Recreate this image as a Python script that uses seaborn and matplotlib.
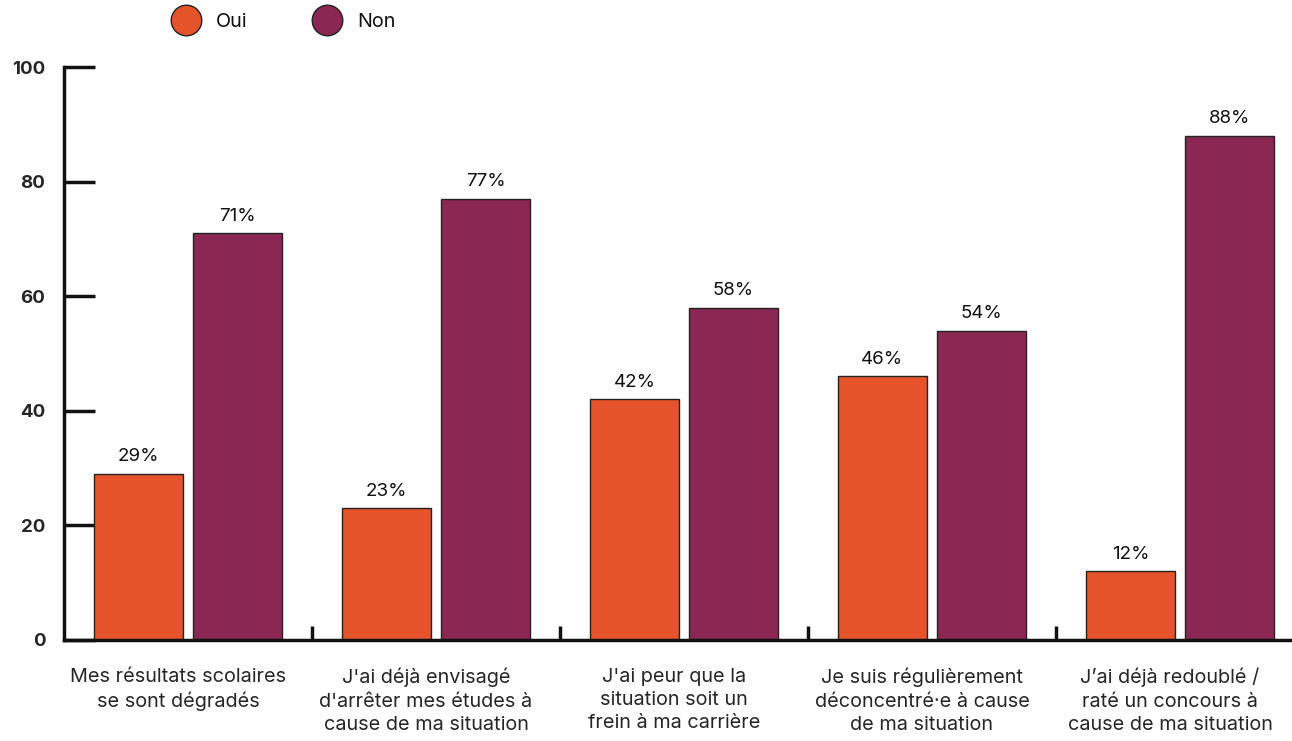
import matplotlib
matplotlib.use("Agg")
import matplotlib.pyplot as plt
import matplotlib.transforms as mtransforms
from matplotlib.lines import Line2D
import seaborn as sns
import pandas as pd

# Survey statements and answer shares (%)
questions = [
    "Mes résultats scolaires\nse sont dégradés",
    "J'ai déjà envisagé\nd'arrêter mes études à\ncause de ma situation",
    "J'ai peur que la\nsituation soit un\nfrein à ma carrière",
    "Je suis régulièrement\ndéconcentré·e à cause\nde ma situation",
    "J’ai déjà redoublé /\nraté un concours à\ncause de ma situation",
]
oui = [29, 23, 42, 46, 12]
non = [71, 77, 58, 54, 88]
answers = ["Oui", "Non"]
yticks = [0, 20, 40, 60, 80, 100]

ORANGE = "#E5532B"
PURPLE = "#8A2752"
INK = "#111111"

sns.set_style("white")
plt.rcParams["font.family"] = ["Inter", "DejaVu Sans"]
plt.rcParams["text.color"] = INK

df = pd.DataFrame({
    "question": questions * 2,
    "reponse": [answers[0]] * len(questions) + [answers[1]] * len(questions),
    "value": oui + non,
})

fig = plt.figure(figsize=(12.92, 7.41), dpi=100)
ax = fig.add_axes([64 / 1292, 1 - 640 / 741, 1240 / 1292, 573 / 741])

sns.barplot(
    data=df, x="question", y="value", hue="reponse",
    hue_order=answers, order=questions,
    palette=[ORANGE, PURPLE], width=0.8, gap=0.1,
    edgecolor="#222222", linewidth=1.0, saturation=1,
    legend=False, ax=ax,
)

for cont in ax.containers:
    vals = [int(round(b.get_height())) for b in cont]
    ax.bar_label(cont, labels=[f"{v}%" for v in vals], padding=6,
                 fontsize=13.5, color=INK)

ax.set_xlim(-0.5, len(questions) - 0.5)
ax.set_ylim(0, 100)
ax.set_yticks(yticks)
ax.set_xlabel("")
ax.set_ylabel("")

# category labels without ticks; boundary ticks drawn as minor ticks
ax.set_xticks(range(len(questions)))
ax.set_xticklabels(questions, fontsize=14.3, linespacing=1.38, va="top")
ax.set_xticks([i + 0.5 for i in range(len(questions) - 1)], minor=True)
ax.tick_params(axis="x", which="both", bottom=True)
ax.tick_params(axis="y", which="both", left=True)
ax.tick_params(axis="x", which="major", length=0, pad=20)
ax.tick_params(axis="x", which="minor", direction="in", length=10,
               width=2.5, color=INK)
ax.tick_params(axis="y", direction="in", length=22.5, width=2.5, color=INK,
               pad=13.5, labelsize=13.5)
offset = mtransforms.ScaledTranslation(-10 / 100, 0, fig.dpi_scale_trans)
for lab in ax.get_xticklabels():
    lab.set_transform(lab.get_transform() + offset)
for lab in ax.get_yticklabels():
    lab.set_fontweight("bold")

for side in ["top", "right"]:
    ax.spines[side].set_visible(False)
for side in ["left", "bottom"]:
    ax.spines[side].set_linewidth(2.5)
    ax.spines[side].set_color(INK)

handles = [
    Line2D([], [], marker="o", linestyle="", markersize=22,
           markerfacecolor=c, markeredgecolor="#222222", markeredgewidth=1)
    for c in (ORANGE, PURPLE)
]
fig.legend(handles, answers, loc="center", bbox_to_anchor=(281 / 1292, 1 - 22 / 741),
           ncol=2, frameon=False, fontsize=14.3, handletextpad=0.5,
           columnspacing=3.0)

fig.savefig("out.png", dpi=100)
